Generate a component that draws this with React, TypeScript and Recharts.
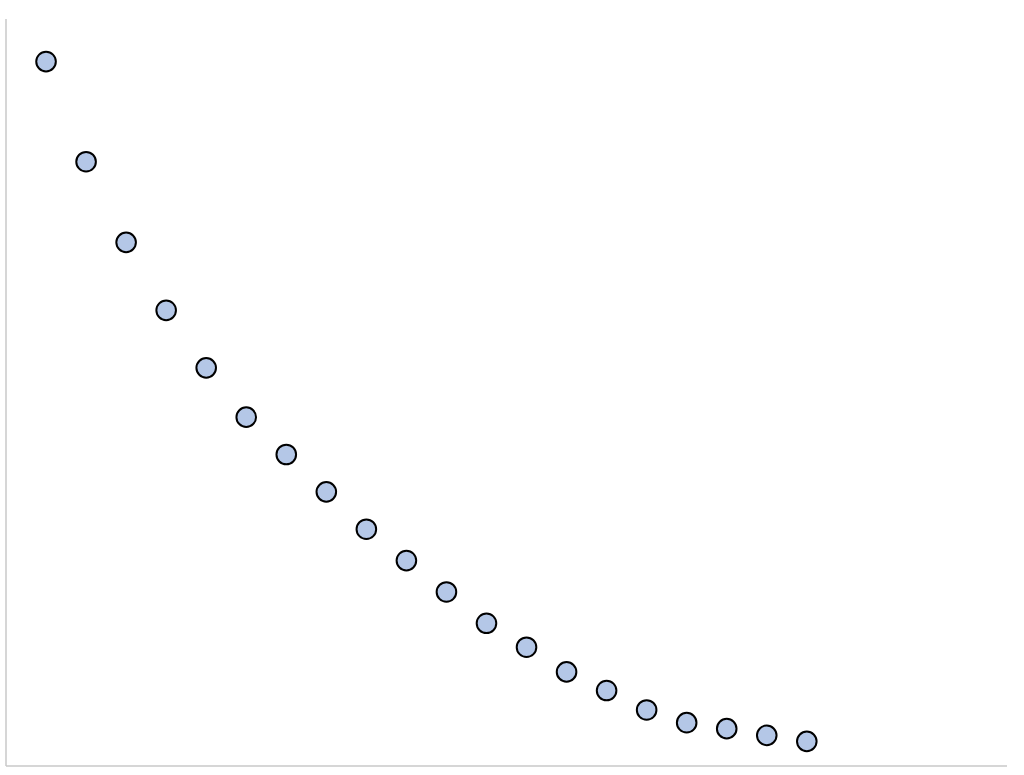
import React from "react";
import { ScatterChart, Scatter, XAxis, YAxis, ReferenceLine } from "recharts";

const xValues = [1, 2, 3, 4, 5, 6, 7, 8, 9, 10, 11, 12, 13, 14, 15, 16, 17, 18, 19, 20];
const yValues = [94.3, 80.9, 70.1, 61.0, 53.3, 46.7, 41.7, 36.7, 31.7, 27.5, 23.3, 19.1, 15.9, 12.6, 10.1, 7.5, 5.8, 5.0, 4.1, 3.3];

const data = xValues.map((x, i) => ({ x, y: yValues[i] }));

const Dot = (p: any) => (
  <circle cx={p.cx} cy={p.cy} r={9.8} fill="#B4C7E7" stroke="#000000" strokeWidth={2} />
);

export default function App() {
  return (
    <div style={{ position: "absolute", left: 0, top: 0, width: 1024, height: 775, background: "#fff" }}>
      <ScatterChart width={1024} height={775} margin={{ top: 19, left: 6, right: 17, bottom: 9 }}>
        <XAxis type="number" dataKey="x" domain={[0, 25]} hide />
        <YAxis type="number" dataKey="y" domain={[0, 100]} hide />
        <ReferenceLine x={0} stroke="#c8c8c8" strokeWidth={1.5} />
        <ReferenceLine y={0} stroke="#c8c8c8" strokeWidth={1.5} />
        <Scatter data={data} shape={Dot} isAnimationActive={false} />
      </ScatterChart>
    </div>
  );
}
